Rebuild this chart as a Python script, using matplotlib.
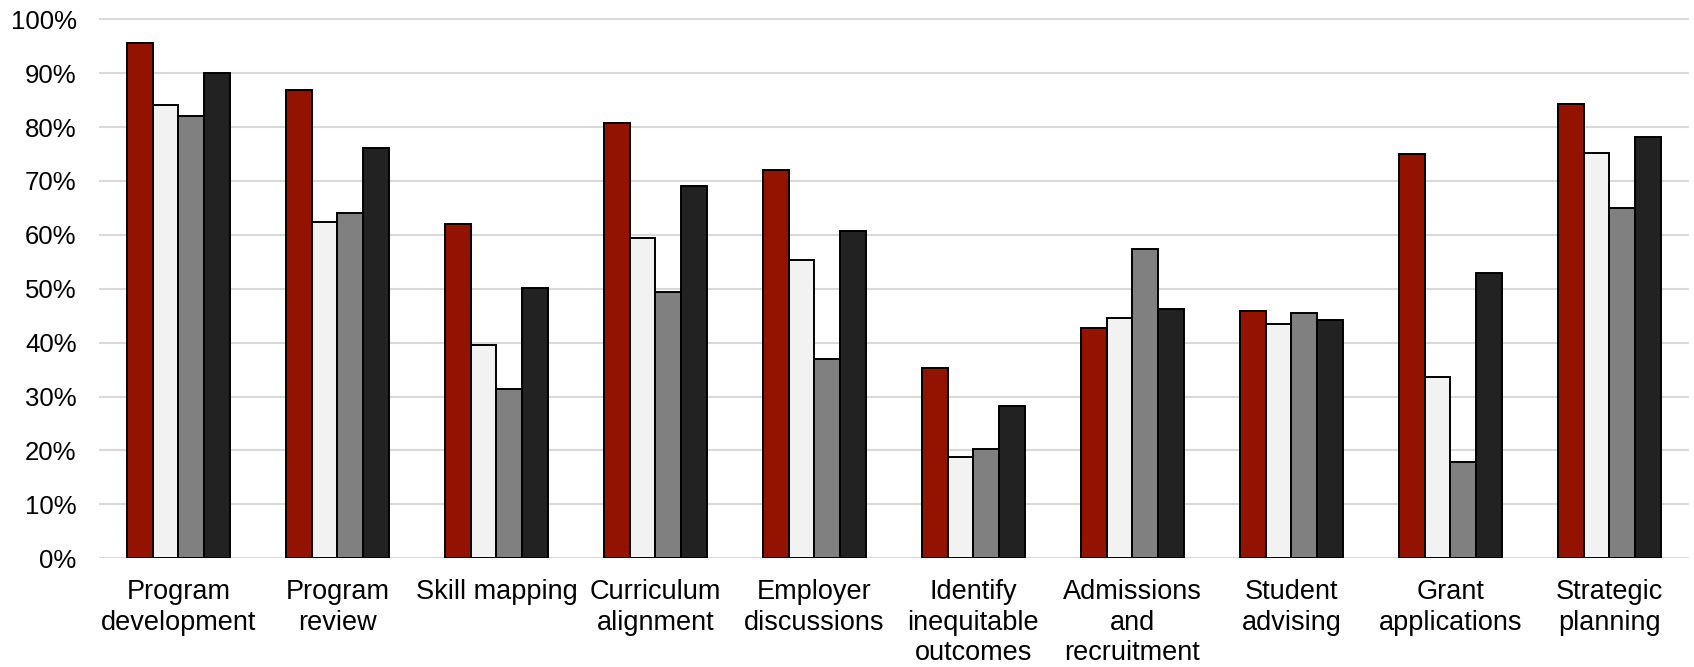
import numpy as np
import matplotlib.pyplot as plt
from matplotlib.ticker import PercentFormatter

plt.rcParams['font.family'] = ['Liberation Sans', 'DejaVu Sans']

categories = ['Program\ndevelopment', 'Program\nreview', 'Skill mapping',
              'Curriculum\nalignment', 'Employer\ndiscussions',
              'Identify\ninequitable\noutcomes', 'Admissions\nand\nrecruitment',
              'Student\nadvising', 'Grant\napplications', 'Strategic\nplanning']

series_a = [95.6, 86.9, 62.0, 80.7, 72.0, 35.3, 42.7, 45.8, 75.0, 84.2]
series_b = [84.1, 62.4, 39.6, 59.4, 55.4, 18.8, 44.5, 43.5, 33.6, 75.2]
series_c = [82.0, 64.1, 31.4, 49.4, 37.0, 20.2, 57.3, 45.6, 17.9, 65.0]
series_d = [90.0, 76.1, 50.2, 69.0, 60.7, 28.2, 46.3, 44.3, 53.0, 78.1]

colors = ['#931300', '#F2F2F2', '#808080', '#222222']

fig = plt.figure(figsize=(16.94, 6.67), dpi=100)
ax = fig.add_axes([0.0584, 0.163, 0.9386, 0.8105])

x = np.arange(len(categories))
w = 0.162
for i, vals in enumerate([series_a, series_b, series_c, series_d]):
    ax.bar(x + (i - 1.5) * w, np.array(vals) / 100, w, color=colors[i],
           edgecolor='black', linewidth=1.4, zorder=3)

ax.set_xlim(-0.5, len(categories) - 0.5)
ax.set_ylim(0, 1.003)
ax.set_yticks(np.arange(0, 1.01, 0.1))
ax.yaxis.set_major_formatter(PercentFormatter(1.0, decimals=0))
ax.set_xticks(x)
ax.set_xticklabels(categories, fontsize=19.5, linespacing=1.22, va='top')
ax.tick_params(axis='y', labelsize=18.5, length=0, pad=16)
ax.tick_params(axis='x', length=0, pad=15)

ax.grid(axis='y', color='#D9D9D9', linewidth=1.5, zorder=0)
for s in ax.spines.values():
    s.set_visible(False)

fig.savefig('out.png', dpi=100)
